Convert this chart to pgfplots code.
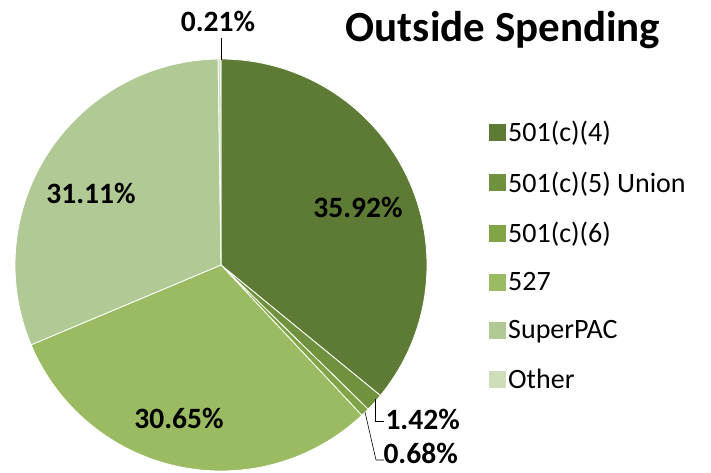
\documentclass[border=0pt]{standalone}
\usepackage{pgfplots}
\usepackage{pgfplotstable}
\pgfplotsset{compat=1.18}
\usepackage{fontspec}
\setmainfont{Carlito}
\definecolor{slice0}{HTML}{5E7B35}
\definecolor{slice1}{HTML}{70913E}
\definecolor{slice2}{HTML}{80A446}
\definecolor{slice3}{HTML}{9BBB62}
\definecolor{slice4}{HTML}{B1C995}
\definecolor{slice5}{HTML}{CDDEB9}
\pgfplotstableread[col sep=comma]{
label,pct
501(c)(4),35.92
501(c)(5) Union,1.42
501(c)(6),0.68
527,30.65
SuperPAC,31.11
Other,0.21
}\piedata
\begin{document}
\begin{tikzpicture}
\begin{axis}[
  width=711pt, height=472pt, scale only axis,
  xmin=0, xmax=711, ymin=0, ymax=472, y dir=reverse,
  hide axis, clip=false,
  legend style={at={(axis cs:486,117)}, anchor=north west, draw=none, fill=none,
    font=\fontsize{28}{31}\selectfont, row sep=24.5pt,
    /tikz/every even column/.append style={column sep=3pt}},
  legend cell align=left,
  legend image code/.code={\path[#1, draw=none] (0pt,-8.5pt) rectangle (17pt,8.5pt);},
]
\def\cum{0}
\pgfplotsforeachungrouped \i in {0,...,5}{%
  \pgfplotstablegetelem{\i}{pct}\of\piedata
  \let\p\pgfplotsretval
  \pgfmathsetmacro\a{-90+3.6*\cum}%
  \pgfmathsetmacro\b{-90+3.6*(\cum+\p)}%
  \pgfmathsetmacro\cum{\cum+\p}%
  \edef\temp{\noexpand\addplot[fill=slice\i, draw=white, line width=0.8pt, domain=\a:\b, samples=80]
    ({221+206*cos(x)},{265+206*sin(x)}) -- (axis cs:221,265) -- cycle;}%
  \temp
}
\legend{501(c)(4),501(c)(5) Union,501(c)(6),527,SuperPAC,Other}
\node[font=\bfseries\fontsize{43}{45}\selectfont] at (axis cs:503,30) {Outside Spending};
\begin{scope}[font=\bfseries\fontsize{29.5}{31}\selectfont]
\node at (axis cs:358,207) {35.92\%};
\node at (axis cs:91,193) {31.11\%};
\node at (axis cs:179,418) {30.65\%};
\node at (axis cs:218,21) {0.21\%};
\node[anchor=west] at (axis cs:382,419) {1.42\%};
\node[anchor=west] at (axis cs:380,453) {0.68\%};
\end{scope}
\draw[black, line width=0.6pt] (axis cs:221,38) -- (axis cs:221,60);
\draw[black, line width=0.6pt] (axis cs:375,399) -- (axis cs:375,421) -- (axis cs:384,421);
\draw[black, line width=0.6pt] (axis cs:365,412) -- (axis cs:376,460) -- (axis cs:384,460);
\end{axis}
\pgfresetboundingbox
\path[use as bounding box] (0,0) rectangle (711pt,472pt);
\end{tikzpicture}
\end{document}
